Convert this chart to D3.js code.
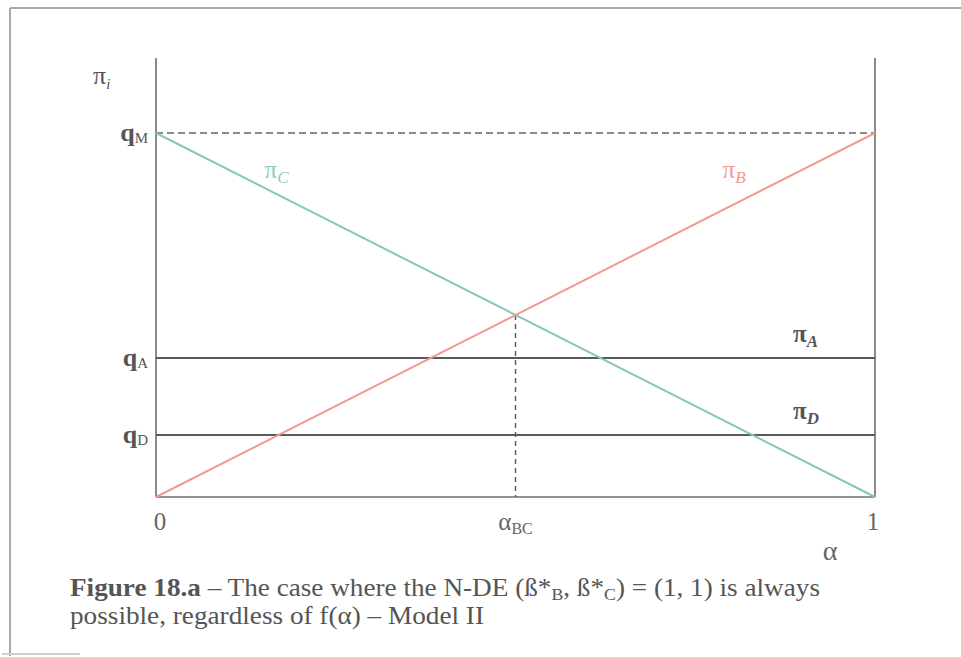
<!DOCTYPE html>
<html>
<head>
<meta charset="utf-8">
<script src="https://cdn.jsdelivr.net/npm/d3@7"></script>
<style>
  html, body { margin: 0; padding: 0; background: #fff; }
  svg { display: block; }
  text { font-family: "Liberation Serif", "Times New Roman", serif; }
</style>
</head>
<body>
<svg id="chart" width="961" height="657"></svg>
<script>
// Payoff levels (normalised so that q_M = 1)
const levelNames = ["qM", "qA", "qD"];
const levelValues = [1, 0.382, 0.17];
const alphaBC = 0.5;

// Payoff lines over alpha in [0, 1]
const alphaPoints = [0, 1];
const piB = [0, 1];          // rises from 0 to q_M
const piC = [1, 0];          // falls from q_M to 0
const piA = [0.382, 0.382];  // flat at q_A
const piD = [0.17, 0.17];    // flat at q_D

// Tick labels on the alpha axis
const xTickValues = [0, 0.5, 1];
const xTickLabels = ["0", "αBC", "1"];

const svg = d3.select("#chart");

// Frame around the figure
const frame = svg.append("g").attr("stroke", "#a8a8a8").attr("stroke-width", 2).attr("fill", "none");
frame.append("line").attr("x1", 10).attr("y1", 8).attr("x2", 961).attr("y2", 8);
frame.append("line").attr("x1", 10).attr("y1", 8).attr("x2", 10).attr("y2", 656);
frame.append("line").attr("x1", 2).attr("y1", 654).attr("x2", 80).attr("y2", 654).attr("stroke", "#cfcfcf");

const x = d3.scaleLinear().domain([0, 1]).range([156, 875]);
const y = d3.scaleLinear().domain([0, 1]).range([497, 133]);
const yTop = 58;

// Axes: left, right and bottom lines
const axisCol = "#6e6e6e";
svg.append("line").attr("x1", x(0)).attr("x2", x(0)).attr("y1", yTop).attr("y2", y(0))
  .attr("stroke", axisCol).attr("stroke-width", 1.6);
svg.append("line").attr("x1", x(1)).attr("x2", x(1)).attr("y1", yTop).attr("y2", y(0))
  .attr("stroke", axisCol).attr("stroke-width", 1.6);
svg.append("line").attr("x1", x(0)).attr("x2", x(1)).attr("y1", y(0)).attr("y2", y(0))
  .attr("stroke", axisCol).attr("stroke-width", 1.6);

// Dashed reference lines
svg.append("line").attr("x1", x(0)).attr("x2", x(1)).attr("y1", y(levelValues[0])).attr("y2", y(levelValues[0]))
  .attr("stroke", "#666").attr("stroke-width", 1.4).attr("stroke-dasharray", "7,4");
svg.append("line").attr("x1", x(alphaBC)).attr("x2", x(alphaBC)).attr("y1", y(0.5)).attr("y2", y(0))
  .attr("stroke", "#555").attr("stroke-width", 1.4).attr("stroke-dasharray", "5,4");

const line = d3.line().x(d => x(d[0])).y(d => y(d[1]));
const series = [
  { vals: piA, color: "#5a5a5a", width: 2 },
  { vals: piD, color: "#5a5a5a", width: 2 },
  { vals: piC, color: "#86c7bb", width: 2 },
  { vals: piB, color: "#f29a92", width: 2 }
];
series.forEach(s => {
  svg.append("path")
    .datum(alphaPoints.map((a, i) => [a, s.vals[i]]))
    .attr("d", line)
    .attr("fill", "none")
    .attr("stroke", s.color)
    .attr("stroke-width", s.width);
});

// Labels on the payoff axis
const subs = { qM: "M", qA: "A", qD: "D" };
levelNames.forEach((n, i) => {
  const t = svg.append("text")
    .attr("x", x(0) - 8).attr("y", y(levelValues[i]) + 8)
    .attr("text-anchor", "end")
    .attr("font-size", 26).attr("font-weight", "bold").attr("fill", "#555");
  t.append("tspan").text("q");
  t.append("tspan").attr("font-size", 15).attr("dy", 2).attr("font-weight", "normal").text(subs[n]);
});

// Axis title pi_i
const yt = svg.append("text").attr("x", 93).attr("y", 84).attr("font-size", 26).attr("fill", "#555");
yt.append("tspan").text("π");
yt.append("tspan").attr("font-size", 15).attr("dy", 5).attr("font-style", "italic").text("i");

// Tick labels along alpha
xTickValues.forEach((v, i) => {
  const t = svg.append("text").attr("x", x(v) + (i === 0 ? 4 : i === 2 ? -2 : 0)).attr("y", 530)
    .attr("text-anchor", "middle").attr("font-size", 25).attr("fill", "#666");
  if (xTickLabels[i] === "αBC") {
    t.append("tspan").text("α");
    t.append("tspan").attr("font-size", 16).attr("dy", 4).text("BC");
  } else {
    t.text(xTickLabels[i]);
  }
});
svg.append("text").attr("x", 830).attr("y", 560).attr("text-anchor", "middle")
  .attr("font-size", 28).attr("fill", "#666").text("α");

// Series labels
function piLabel(px, py, sub, color, bold) {
  const t = svg.append("text").attr("x", px).attr("y", py).attr("font-size", 25).attr("fill", color);
  if (bold) t.attr("font-weight", "bold");
  t.append("tspan").text("π");
  t.append("tspan").attr("font-size", 17).attr("dy", 5).attr("font-style", "italic").text(sub);
}
piLabel(x(0.151), 178, "C", "#8ccbc0", false);
piLabel(x(0.788), 178, "B", "#f29a92", false);
piLabel(x(0.886), y(piA[0]) - 16, "A", "#555", true);
piLabel(x(0.886), y(piD[0]) - 16, "D", "#555", true);

// Caption
const cap = svg.append("text").attr("x", 70).attr("y", 596).attr("font-size", 26).attr("fill", "#555")
  .attr("textLength", 750).attr("lengthAdjust", "spacingAndGlyphs");
cap.append("tspan").attr("font-weight", "bold").text("Figure 18.a");
cap.append("tspan").text(" – The case where the N-DE (ß*");
cap.append("tspan").attr("font-size", 17).attr("dy", 4).text("B");
cap.append("tspan").attr("dy", -4).text(", ß*");
cap.append("tspan").attr("font-size", 17).attr("dy", 4).text("C");
cap.append("tspan").attr("dy", -4).text(") = (1, 1) is always");
svg.append("text").attr("x", 70).attr("y", 624).attr("font-size", 26).attr("fill", "#555")
  .attr("textLength", 414).attr("lengthAdjust", "spacingAndGlyphs")
  .text("possible, regardless of f(α) – Model II");
</script>
</body>
</html>
